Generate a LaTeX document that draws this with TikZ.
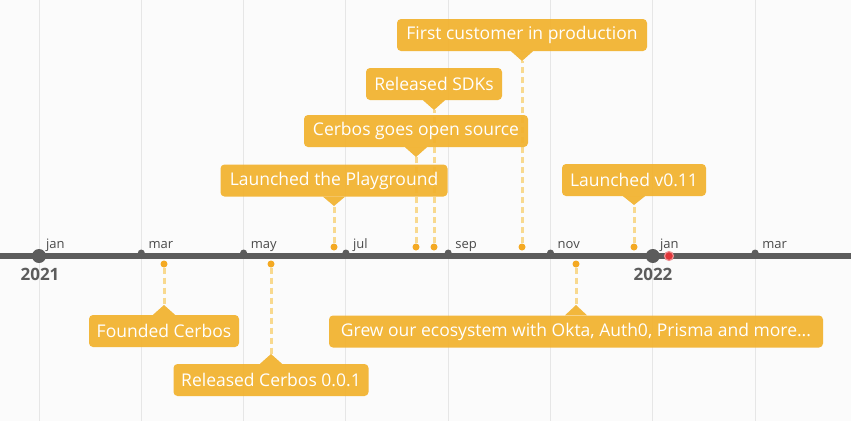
\documentclass[tikz,border=0pt]{standalone}
\usepackage{fontspec}
\setmainfont{Open Sans}
\definecolor{bgc}{HTML}{FBFBFB}
\definecolor{gridc}{HTML}{E6E6E6}
\definecolor{axisc}{HTML}{5C5C5C}
\definecolor{boxc}{HTML}{F2B22E}
\definecolor{dotc}{HTML}{F4A922}
\definecolor{dashc}{HTML}{F8D98F}
\definecolor{redc}{HTML}{E0363A}
\definecolor{monthc}{HTML}{4A4A4A}
\tikzset{
  callout/.style={fill=boxc, fill opacity=0.93, text opacity=1, text=white,
    rounded corners=4pt, minimum height=32pt, inner sep=0pt,
    font=\fontsize{17.5}{19}\selectfont},
  ptr/.style={fill=boxc, fill opacity=0.93},
  evdot/.style={circle, fill=dotc, minimum size=7pt, inner sep=0pt},
  mdot/.style={circle, fill=axisc, minimum size=7pt, inner sep=0pt},
  ydot/.style={circle, fill=axisc, minimum size=14pt, inner sep=0pt},
  conn/.style={draw=dashc, line width=3pt, dash pattern=on 6pt off 4pt},
  mlabel/.style={anchor=base west, text=monthc, inner sep=0pt, font=\fontsize{13}{15}\selectfont},
  ylabel/.style={text=axisc, inner sep=0pt, font=\fontsize{17}{19}\selectfont\bfseries},
}
\begin{document}
\begin{tikzpicture}[x=1pt,y=-1pt]
\useasboundingbox (0,0) rectangle (851,421);
\fill[bgc] (0,0) rectangle (851,421);
% grid
\foreach \gx in {39,141.3,243.6,345.9,448.2,550.5,652.8,755.1}
  \draw[gridc, line width=1pt] (\gx,0) -- (\gx,421);

% event dots and dashed connectors (under boxes)
\node[evdot] (dfirst) at (522,247) {};
\node[evdot] (dsdk) at (434,247) {};
\node[evdot] (dopen) at (416,247) {};
\node[evdot] (dplay) at (334,247) {};
\node[evdot] (dv011) at (634,247) {};
\node[evdot] (dfound) at (164,264) {};
\node[evdot] (drel) at (271,264) {};
\node[evdot] (dgrew) at (576,264) {};

\coordinate (tfirst) at (522,61);
\coordinate (tsdk) at (434,110);
\coordinate (topen) at (416,157);
\coordinate (tplay) at (334,206);
\coordinate (tv011) at (634,205);
\coordinate (tfound) at (164,305);
\coordinate (trel) at (271,354);
\coordinate (tgrew) at (576,305);

\draw[conn] (dfirst) -- (tfirst);
\draw[conn] (dsdk) -- (tsdk);
\draw[conn] (dopen) -- (topen);
\draw[conn] (dplay) -- (tplay);
\draw[conn] (dv011) -- (tv011);
\draw[conn] (dfound) -- (tfound);
\draw[conn] (drel) -- (trel);
\draw[conn] (dgrew) -- (tgrew);

% axis
\draw[axisc, line width=6pt] (0,256) -- (851,256);
\foreach \mx/\mn in {141.3/mar,243.6/may,345.9/jul,448.2/sep,550.5/nov,755.1/mar}{
  \node[mdot] (m\mn\mx) at (\mx,253) {};
  \node[mlabel] (l\mn\mx) at (\mx+7,248) {\mn};
}
\node[ydot] (y2021) at (39,256) {};
\node[ydot] (y2022) at (652.8,256) {};
\node[mlabel] (ljan1) at (46,248) {jan};
\node[mlabel] (ljan2) at (659.8,248) {jan};
\node[ylabel] (t2021) at (40,274) {2021};
\node[ylabel] (t2022) at (653,274) {2022};
\node[circle, fill=redc, draw=redc!55, line width=1.2pt, minimum size=9pt, inner sep=0pt] (today) at (669,256) {};

% callouts
\node[callout, minimum width=250pt] (cfirst) at (522,35) {First customer in production};
\fill[ptr] ([xshift=-11pt]cfirst.south) -- (tfirst) -- ([xshift=11pt]cfirst.south) -- cycle;
\node[callout, minimum width=136pt] (csdk) at (434,84) {Released SDKs};
\fill[ptr] ([xshift=-11pt]csdk.south) -- (tsdk) -- ([xshift=11pt]csdk.south) -- cycle;
\node[callout, minimum width=224pt] (copen) at (416,131) {Cerbos goes open source};
\fill[ptr] ([xshift=-11pt]copen.south) -- (topen) -- ([xshift=11pt]copen.south) -- cycle;
\node[callout, minimum width=227pt] (cplay) at (334,180.5) {Launched the Playground};
\fill[ptr] ([xshift=-11pt]cplay.south) -- (tplay) -- ([xshift=11pt]cplay.south) -- cycle;
\node[callout, minimum width=144pt] (cv011) at (634,180) {Launched v0.11};
\fill[ptr] ([xshift=-11pt]cv011.south) -- (tv011) -- ([xshift=11pt]cv011.south) -- cycle;
\node[callout, minimum width=150pt] (cfound) at (164,331) {Founded Cerbos};
\fill[ptr] ([xshift=-11pt]cfound.north) -- (tfound) -- ([xshift=11pt]cfound.north) -- cycle;
\node[callout, minimum width=195pt] (crel) at (271,380) {Released Cerbos 0.0.1};
\fill[ptr] ([xshift=-11pt]crel.north) -- (trel) -- ([xshift=11pt]crel.north) -- cycle;
\node[callout, minimum width=494pt] (cgrew) at (576,331.5) {Grew our ecosystem with Okta, Auth0, Prisma and more...};
\fill[ptr] ([xshift=-11pt]cgrew.north) -- (tgrew) -- ([xshift=11pt]cgrew.north) -- cycle;
\end{tikzpicture}
\end{document}
